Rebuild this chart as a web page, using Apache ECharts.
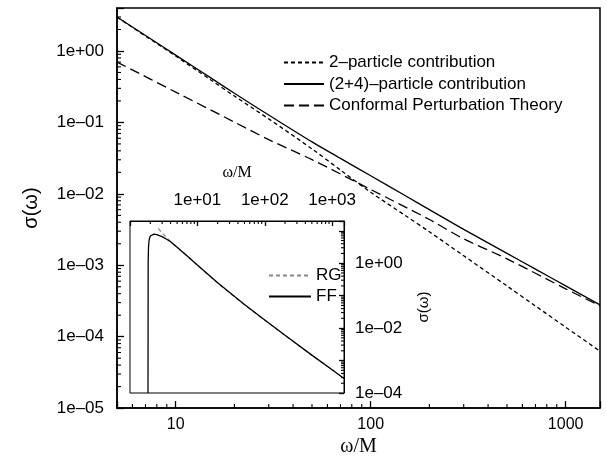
<!DOCTYPE html>
<html>
<head>
<meta charset="utf-8">
<script src="https://cdn.jsdelivr.net/npm/echarts@6.0.0/dist/echarts.min.js"></script>
<style>
	html, body { margin: 0; padding: 0; background: #fff; }
	#chart { width: 606px; height: 462px; }
</style>
</head>
<body>
<div id="chart"></div>
<script>
// main plot: sigma(omega) vs omega/M
const mainX = [5, 7, 10, 15, 20, 30, 50, 70, 100, 150, 200, 300, 500, 700, 1000, 1500];
const twoParticle = [2.99, 1.62, 0.85, 0.40, 0.234, 0.112, 0.0426, 0.0215, 0.01054, 0.0050, 0.00294, 0.00136, 0.000513, 0.000269, 0.000136, 0.0000626];
const twoFourParticle = [2.99, 1.65, 0.875, 0.427, 0.256, 0.127, 0.0534, 0.0314, 0.0179, 0.00946, 0.00601, 0.00318, 0.00147, 0.000883, 0.000514, 0.000279];
const cptX = [5, 10, 20, 30, 50, 100, 200, 300, 500, 1000, 1500];
const cptY = [0.70, 0.266, 0.101, 0.0574, 0.0301, 0.0115, 0.00437, 0.00234, 0.00123, 0.000468, 0.000269];

// inset: RG vs FF
const ffX = [1.85, 1.86, 1.88, 1.92, 2.0, 2.1, 2.27, 2.5, 3.0, 3.5, 4.0, 5, 7, 10, 20, 50, 100, 200, 500, 1000, 1500];
const ffY = [0.0001, 1.0, 3.0, 5.2, 6.9, 7.6, 7.9, 7.6, 6.6, 5.5, 4.6, 3.1, 1.7, 0.88, 0.25, 0.053, 0.0178, 0.006, 0.00147, 0.00052, 0.00028];
const rgX = [2.63, 3.0, 3.5, 4.0, 5, 7, 10, 20, 50, 100, 200, 500, 1000, 1500];
const rgY = [11.9, 8.6, 6.2, 4.7, 3.1, 1.68, 0.86, 0.245, 0.052, 0.0175, 0.0059, 0.00145, 0.00052, 0.00028];

// tick labels, keyed by decade exponent
const mainXExp = [1, 2, 3];
const mainXLabels = ['10', '100', '1000'];
const mainYExp = [-5, -4, -3, -2, -1, 0];
const mainYLabels = ['1e\u201305', '1e\u201304', '1e\u201303', '1e\u201302', '1e\u201301', '1e+00'];
const insetXExp = [1, 2, 3];
const insetXLabels = ['1e+01', '1e+02', '1e+03'];
const insetYExp = [-4, -2, 0];
const insetYLabels = ['1e\u201304', '1e\u201302', '1e+00'];

const SANS = '"Liberation Sans", Arial, sans-serif';
const SERIF = '"Liberation Serif", "Times New Roman", serif';

const mainXRange = [5, 1500];
const mainYRange = [1e-5, 4];
const insetXRange = [1, 1500];
const insetYRange = [1e-4, 20];

function pairs(xs, ys) {
	return xs.map((x, i) => [x, ys[i]]);
}

function decadeLabel(exps, labels) {
	return function(v) {
		let e = Math.log10(v);
		let r = Math.round(e);
		if (Math.abs(e - r) > 1e-6) return '';
		let idx = exps.indexOf(r);
		return idx === -1 ? '' : labels[idx];
	};
}

// log minor tick values (2..9 in each decade) strictly inside a range
function minorValues(range) {
	let out = [];
	for (let e = Math.floor(Math.log10(range[0])); e <= Math.ceil(Math.log10(range[1])); e++) {
		for (let m = 2; m <= 9; m++) {
			let v = m * Math.pow(10, e);
			if (v > range[0] && v < range[1]) out.push(v);
		}
	}
	return out;
}

function axisLine(w) {
	return { show: true, lineStyle: { color: '#000', width: w } };
}

function axisTick(len) {
	return { show: true, inside: true, length: len, lineStyle: { color: '#000', width: 1.3 } };
}

let myChart = echarts.init(document.getElementById('chart'), null, { renderer: 'canvas' });

let option = {
	animation: false,
	backgroundColor: '#fff',
	grid: [
		{ left: 117, top: 8, right: 6, bottom: 51, show: true, borderColor: '#000', borderWidth: 1.5, backgroundColor: 'transparent' },
		{ left: 130, top: 221, width: 214, height: 172, show: true, borderColor: '#000', borderWidth: 1, backgroundColor: '#fff' }
	],
	legend: [
		{
			orient: 'vertical', left: 278, top: 49, itemWidth: 40, itemHeight: 14, itemGap: 4.5,
			itemStyle: { opacity: 0 },
			textStyle: { fontFamily: SANS, fontSize: 17, color: '#000', lineHeight: 17 },
			data: ['2\u2013particle contribution', '(2+4)\u2013particle contribution', 'Conformal Perturbation Theory']
		},
		{
			orient: 'vertical', left: 263, top: 262, itemWidth: 42, itemHeight: 14, itemGap: 4,
			itemStyle: { opacity: 0 },
			textStyle: { fontFamily: SANS, fontSize: 17, color: '#000', lineHeight: 17 },
			data: ['RG', 'FF']
		}
	],
	xAxis: [
		{
			type: 'log', gridIndex: 0, min: mainXRange[0], max: mainXRange[1],
			name: '\u03c9/M', nameLocation: 'middle', nameGap: 25,
			nameTextStyle: { fontFamily: SERIF, fontSize: 20, color: '#000' },
			axisLine: axisLine(1.5),
			axisTick: axisTick(7),
			axisLabel: { margin: 8, fontFamily: SANS, fontSize: 16, color: '#000', formatter: decadeLabel(mainXExp, mainXLabels) },
			splitLine: { show: false }
		},
		{
			type: 'log', gridIndex: 1, position: 'top', min: insetXRange[0], max: insetXRange[1],
			name: '\u03c9/M', nameLocation: 'middle', nameGap: 40,
			nameTextStyle: { fontFamily: SERIF, fontSize: 16, color: '#000' },
			axisLine: axisLine(1),
			axisTick: axisTick(5),
			axisLabel: { margin: 12, fontFamily: SANS, fontSize: 17, color: '#000', formatter: decadeLabel(insetXExp, insetXLabels) },
			splitLine: { show: false }
		}
	],
	yAxis: [
		{
			type: 'log', gridIndex: 0, min: mainYRange[0], max: mainYRange[1],
			name: '\u03c3(\u03c9)', nameLocation: 'middle', nameGap: 76,
			nameTextStyle: { fontFamily: SANS, fontSize: 20, color: '#000' },
			axisLine: axisLine(1.5),
			axisTick: axisTick(7),
			axisLabel: { margin: 13, fontFamily: SANS, fontSize: 17, color: '#000', formatter: decadeLabel(mainYExp, mainYLabels) },
			splitLine: { show: false }
		},
		{
			type: 'log', gridIndex: 1, position: 'right', min: insetYRange[0], max: insetYRange[1],
			name: '\u03c3(\u03c9)', nameLocation: 'middle', nameGap: 72, nameRotate: 90,
			nameTextStyle: { fontFamily: SANS, fontSize: 15, color: '#000' },
			axisLine: axisLine(1),
			axisTick: axisTick(5),
			axisLabel: { margin: 11, fontFamily: SANS, fontSize: 17, color: '#000', formatter: decadeLabel(insetYExp, insetYLabels) },
			splitLine: { show: false }
		}
	],
	series: [
		{
			name: '2\u2013particle contribution', type: 'line', xAxisIndex: 0, yAxisIndex: 0,
			data: pairs(mainX, twoParticle), symbol: 'none', smooth: 0.3, color: '#000',
			lineStyle: { color: '#000', width: 1.3, type: [4, 3] }
		},
		{
			name: '(2+4)\u2013particle contribution', type: 'line', xAxisIndex: 0, yAxisIndex: 0,
			data: pairs(mainX, twoFourParticle), symbol: 'none', smooth: 0.3, color: '#000',
			lineStyle: { color: '#000', width: 1.3 }
		},
		{
			name: 'Conformal Perturbation Theory', type: 'line', xAxisIndex: 0, yAxisIndex: 0,
			data: pairs(cptX, cptY), symbol: 'none', smooth: 0.3, color: '#000',
			lineStyle: { color: '#000', width: 1.3, type: [10, 5] }
		},
		{
			name: 'RG', type: 'line', xAxisIndex: 1, yAxisIndex: 1,
			data: pairs(rgX, rgY), symbol: 'none', smooth: 0.3, color: '#888',
			lineStyle: { color: '#888', width: 1.2, type: [4, 3] }
		},
		{
			name: 'FF', type: 'line', xAxisIndex: 1, yAxisIndex: 1,
			data: pairs(ffX, ffY), symbol: 'none', color: '#000',
			lineStyle: { color: '#000', width: 1.3 }
		}
	]
};

option && myChart.setOption(option);

// minor ticks: positions come from the chart's own log scales
function minorTickGraphics() {
	let els = [];
	let addTick = function(p, dx, dy) {
		els.push({
			type: 'line', silent: true, z: 100,
			shape: { x1: p[0], y1: p[1], x2: p[0] + dx, y2: p[1] + dy },
			style: { stroke: '#000', lineWidth: 1.1 }
		});
	};
	let mainFinder = { xAxisIndex: 0, yAxisIndex: 0 };
	let insetFinder = { xAxisIndex: 1, yAxisIndex: 1 };
	minorValues(mainXRange).forEach(v => addTick(myChart.convertToPixel(mainFinder, [v, mainYRange[0]]), 0, -4));
	minorValues(mainYRange).forEach(v => addTick(myChart.convertToPixel(mainFinder, [mainXRange[0], v]), 4, 0));
	minorValues(insetXRange).forEach(v => addTick(myChart.convertToPixel(insetFinder, [v, insetYRange[1]]), 0, 3));
	minorValues(insetYRange).forEach(v => addTick(myChart.convertToPixel(insetFinder, [insetXRange[1], v]), -3, 0));
	return els;
}

myChart.setOption({ graphic: { elements: minorTickGraphics() } });
</script>
</body>
</html>
